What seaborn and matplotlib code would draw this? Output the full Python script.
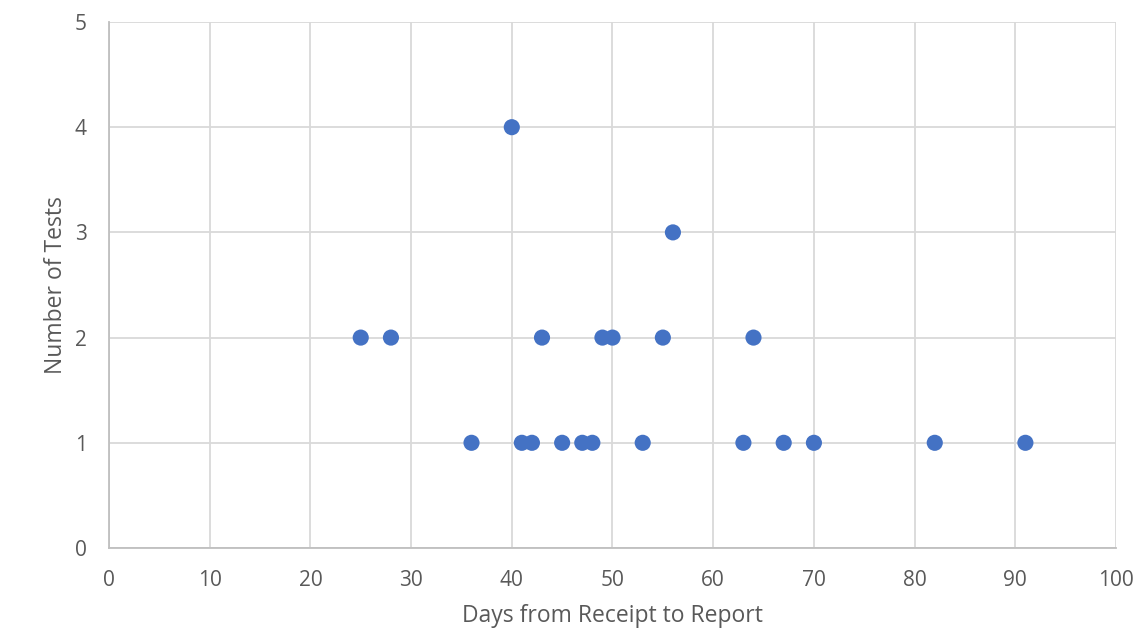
import matplotlib
matplotlib.use("Agg")
import matplotlib.pyplot as plt
import seaborn as sns
import pandas as pd

# Turnaround time (days) and how many tests took that long
days = [25, 28, 36, 40, 41, 42, 43, 45, 47, 48, 49, 50, 53, 55, 56, 63, 64, 67, 70, 82, 91]
tests = [2, 2, 1, 4, 1, 1, 2, 1, 1, 1, 2, 2, 1, 2, 3, 1, 2, 1, 1, 1, 1]
x_ticks = [0, 10, 20, 30, 40, 50, 60, 70, 80, 90, 100]
y_ticks = [0, 1, 2, 3, 4, 5]

df = pd.DataFrame({"days": days, "tests": tests})

sns.set_theme(style="white")
plt.rcParams["font.family"] = ["Open Sans", "DejaVu Sans"]

fig = plt.figure(figsize=(11.47, 6.37), dpi=100)
ax = fig.add_axes([0.095, 0.1397, 0.878, 0.8258])

sns.scatterplot(data=df, x="days", y="tests", ax=ax, s=135, color="#4472C4",
                edgecolor="none", zorder=3)

ax.set_xlim(0, 100)
ax.set_ylim(0, 5)
ax.set_xticks(x_ticks)
ax.set_yticks(y_ticks)
ax.grid(True, color="#D9D9D9", linewidth=1.3)
ax.set_axisbelow(True)
for side in ["top", "right"]:
    ax.spines[side].set_visible(False)
for side in ["left", "bottom"]:
    ax.spines[side].set_color("#BFBFBF")
    ax.spines[side].set_linewidth(1.3)

ax.tick_params(axis="x", labelsize=15, colors="#595959", length=0, pad=16)
ax.tick_params(axis="y", labelsize=15, colors="#595959", length=0, pad=16)
ax.set_xlabel("Days from Receipt to Report", fontsize=16.5, color="#595959", labelpad=9)
ax.set_ylabel("Number of Tests", fontsize=16.5, color="#595959", labelpad=5)

fig.savefig("out.png", dpi=100, facecolor="white")
